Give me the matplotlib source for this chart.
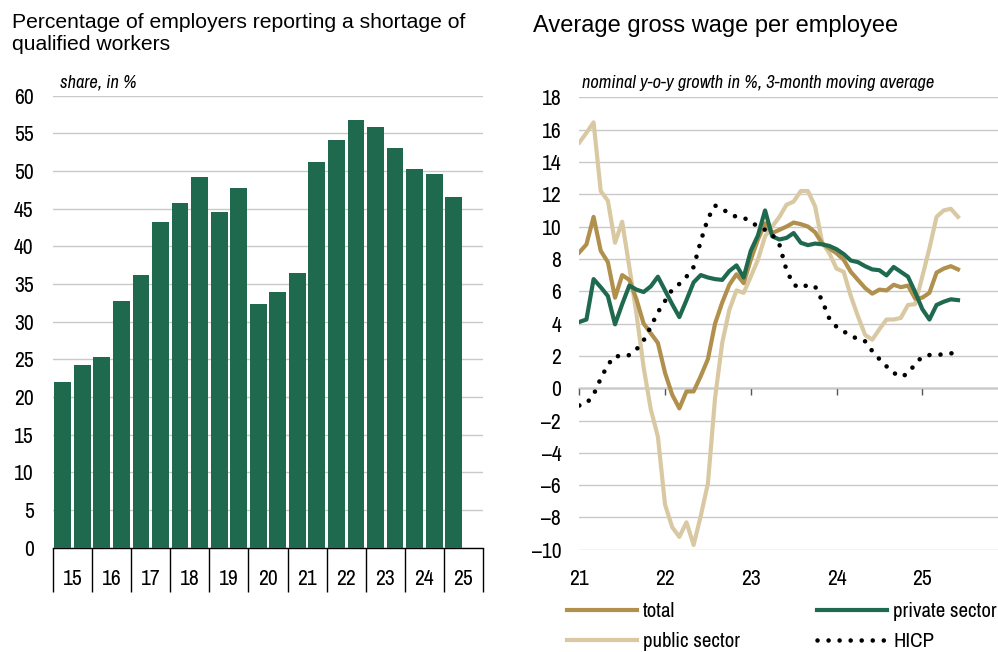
import matplotlib
matplotlib.use("Agg")
import matplotlib.pyplot as plt
import numpy as np
from matplotlib.ticker import FuncFormatter

plt.rcParams['font.family'] = ['Liberation Sans', 'DejaVu Sans']
NARROW = ['Liberation Sans Narrow', 'Arial Narrow', 'Archivo Narrow', 'Roboto Condensed',
          'PT Sans Narrow', 'IBM Plex Sans Condensed', 'Liberation Sans', 'DejaVu Sans']

# ---------------- data: left chart ----------------
bar_years = ['15', '16', '17', '18', '19', '20', '21', '22', '23', '24', '25']
shortage_share = [22.0, 24.2, 25.3, 32.7, 36.2, 43.3, 45.8, 49.2, 44.6, 47.8,
                  32.4, 33.9, 36.5, 51.2, 54.1, 56.8, 55.8, 53.1, 50.3, 49.6, 46.5]

# ---------------- data: right chart (monthly, Jan 2021 - Jun 2025) ----------------
start_year = 2021
wage_total = [8.4, 8.9, 10.6, 8.5, 7.8, 5.6, 7.0, 6.7, 5.5, 4.0, 3.4, 2.8,
              0.95, -0.4, -1.25, -0.2, -0.2, 0.75, 1.8, 4.0, 5.3, 6.4, 7.05, 6.5,
              7.95, 9.2, 10.2, 9.6, 9.8, 10.0, 10.25, 10.15, 10.0, 9.65, 8.95, 8.65,
              8.35, 7.95, 7.2, 6.7, 6.2, 5.85, 6.1, 6.05, 6.4, 6.25, 6.35, 5.55,
              5.6, 5.9, 7.15, 7.4, 7.55, 7.35]
wage_private = [4.1, 4.25, 6.75, 6.25, 5.7, 3.95, 5.2, 6.35, 6.1, 5.95, 6.3, 6.9,
                6.05, 5.2, 4.4, 5.45, 6.55, 7.0, 6.85, 6.75, 6.7, 7.25, 7.6, 6.85,
                8.5, 9.45, 11.0, 9.4, 9.2, 9.3, 9.6, 9.0, 8.85, 8.95, 8.9, 8.8,
                8.6, 8.3, 7.9, 7.8, 7.55, 7.35, 7.3, 6.98, 7.5, 7.2, 6.9, 5.95,
                4.9, 4.25, 5.15, 5.35, 5.5, 5.45]
wage_public = [15.2, 15.8, 16.45, 12.2, 11.6, 9.0, 10.3, 7.5, 4.6, 1.3, -1.3, -3.0,
               -7.2, -8.6, -9.2, -8.3, -9.7, -7.9, -5.9, -0.6, 2.8, 4.85, 6.05, 5.9,
               6.9, 7.95, 9.4, 10.0, 10.6, 11.35, 11.55, 12.2, 12.2, 11.25, 9.0, 8.35,
               7.4, 7.2, 5.7, 4.45, 3.3, 3.0, 3.65, 4.25, 4.25, 4.35, 5.15, 5.2,
               6.9, 8.65, 10.6, 11.0, 11.1, 10.6]
hicp = [-1.07, -0.95, -0.4, 0.6, 1.45, 2.0, 1.95, 2.05, 2.4, 2.95, 3.8, 4.7,
        5.4, 6.1, 6.45, 6.9, 7.5, 9.1, 10.5, 11.3, 11.1, 10.8, 10.6, 10.55,
        10.3, 10.0, 9.8, 9.5, 8.9, 7.3, 6.4, 6.2, 6.4, 6.3, 5.4, 4.3,
        3.8, 3.5, 3.3, 3.0, 2.9, 2.3, 1.8, 1.35, 0.95, 0.7, 0.9, 1.5,
        1.95, 2.05, 2.08, 2.08, 2.15, 2.25]
wage_years = [2021, 2022, 2023, 2024, 2025]
wage_year_labels = ['21', '22', '23', '24', '25']

# ---------------- styles ----------------
GREEN = '#1f6a4f'
GOLD = '#b0904c'
BEIGE = '#d9c9a3'
GRID = '#c9c9c9'
TICK_FS = 15.5

W, H = 998, 652
fig = plt.figure(figsize=(W / 100, H / 100), dpi=100)

def fx(px):
    return px / W

def fy(px):
    return 1 - px / H

minus_fmt = FuncFormatter(lambda v, p: f"{v:.0f}".replace('-', '\u2013'))

# ================= left chart =================
axL = fig.add_axes([fx(53), fy(547.7), fx(483) - fx(53), fy(95.7) - fy(547.7)])
n = len(shortage_share)
xpos = np.arange(n) + 0.5
axL.bar(xpos, shortage_share, width=0.86, color=GREEN, zorder=3)
axL.set_xlim(0, 2 * len(bar_years))
axL.set_ylim(0, 60)
axL.set_yticks(np.arange(0, 61, 5))
axL.yaxis.grid(True, color=GRID, lw=1.0, zorder=0)
axL.set_axisbelow(True)
for s in ['top', 'right', 'left']:
    axL.spines[s].set_visible(False)
axL.spines['bottom'].set_color('black')
axL.spines['bottom'].set_linewidth(1.0)
axL.tick_params(axis='y', length=0, pad=14, labelsize=TICK_FS)
for lab in axL.get_yticklabels():
    lab.set_family(NARROW)
axL.set_xticks([])
# category box separators and labels
seps = np.arange(0, 2 * len(bar_years) + 1, 2)
axL.vlines(seps, 0, -0.097, transform=axL.get_xaxis_transform(), colors='black',
           lw=1.0, clip_on=False)
for k, lab in enumerate(bar_years):
    axL.text(2 * k + 1, -0.07, lab, transform=axL.get_xaxis_transform(),
             ha='center', va='center', fontsize=TICK_FS, family=NARROW)

fig.text(fx(12), fy(13), 'Percentage of employers reporting a shortage of\nqualified workers',
         fontsize=15.2, ha='left', va='top', linespacing=1.22)
fig.text(fx(60), fy(83), 'share, in %', fontsize=13.3, style='italic', ha='left', va='center',
         family=NARROW)

# ================= right chart =================
axR = fig.add_axes([fx(579.3), fy(549.8), 1 - fx(579.3), fy(97.3) - fy(549.8)])
t = start_year + np.arange(len(wage_total)) / 12.0
axR.plot(t, wage_public, color=BEIGE, lw=3.0, solid_joinstyle='round', zorder=3, label='public sector')
axR.plot(t, wage_total, color=GOLD, lw=3.0, solid_joinstyle='round', zorder=4, label='total')
axR.plot(t, wage_private, color=GREEN, lw=3.0, solid_joinstyle='round', zorder=5, label='private sector')
axR.plot(t, hicp, color='black', lw=3.3, linestyle=(0, (0.01, 2.4)), dash_capstyle='round',
         zorder=6, label='HICP')
axR.set_xlim(start_year, start_year + 58.6 / 12)
axR.set_ylim(-10, 18)
axR.set_yticks(np.arange(-10, 19, 2))
axR.yaxis.set_major_formatter(minus_fmt)
axR.yaxis.grid(True, color=GRID, lw=1.0, zorder=0)
axR.set_axisbelow(True)
for s in ['top', 'right', 'left', 'bottom']:
    axR.spines[s].set_visible(False)
axR.tick_params(axis='y', length=0, pad=13, labelsize=TICK_FS)
axR.set_xticks(wage_years, labels=wage_year_labels)
axR.tick_params(axis='x', length=0, pad=14, labelsize=TICK_FS)
for lab in axR.get_yticklabels() + axR.get_xticklabels():
    lab.set_family(NARROW)
sec = axR.secondary_xaxis(0, transform=axR.transData)
sec.set_xticks(wage_years, labels=[''] * len(wage_years))
sec.spines['bottom'].set_color('#555555')
sec.spines['bottom'].set_linewidth(1.0)
sec.tick_params(axis='x', direction='out', length=5, width=1.0, color='#555555')

fig.text(fx(533), fy(15), 'Average gross wage per employee', fontsize=17, ha='left', va='top')
fig.text(fx(582), fy(83), 'nominal y-o-y growth in %, 3-month moving average', fontsize=13.3,
         style='italic', ha='left', va='center', family=NARROW)

# legend
h, l = axR.get_legend_handles_labels()
order = [1, 0, 2, 3]  # total, public | private, HICP
leg = fig.legend([h[i] for i in order], [l[i] for i in order], ncol=2, frameon=False,
                 loc='upper left', bbox_to_anchor=(fx(566.7), fy(602)),
                 prop={'family': NARROW, 'size': 15}, handlelength=3.37, handletextpad=0.29,
                 columnspacing=3.7, labelspacing=0.52, borderpad=0, borderaxespad=0)

fig.savefig('out.png', dpi=100)
